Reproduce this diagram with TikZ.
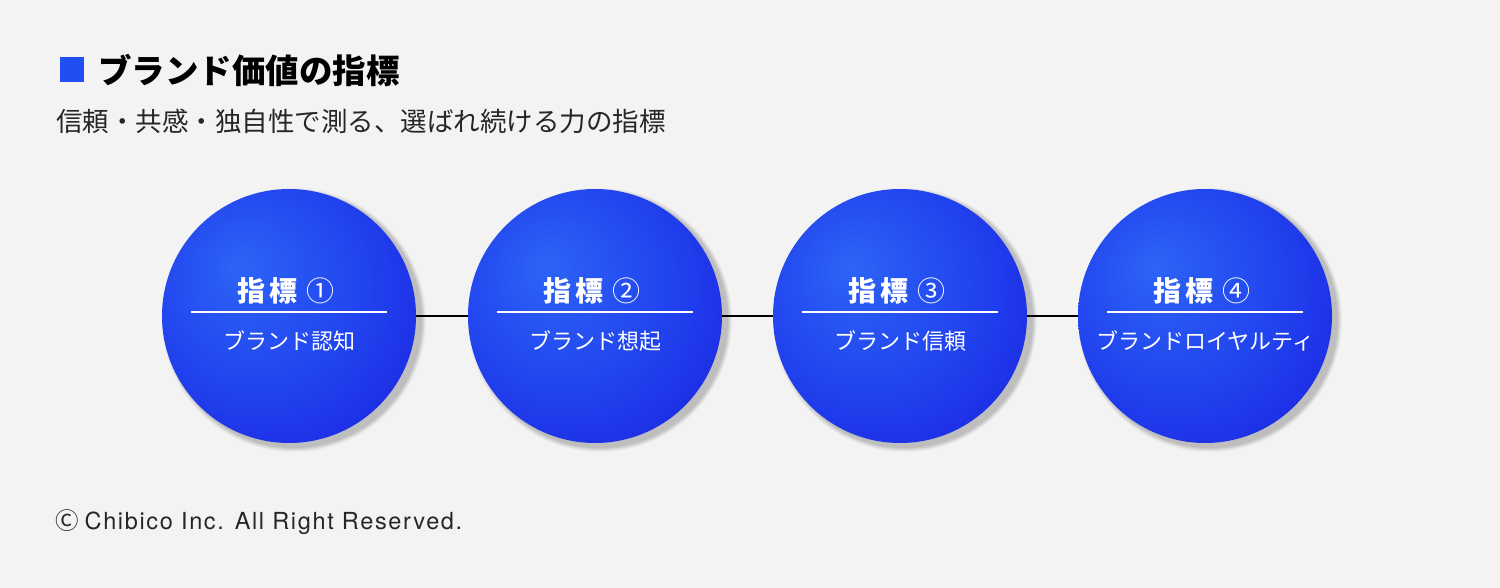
\documentclass[tikz,border=0pt]{standalone}
\usepackage{fontspec}
\setmainfont{Noto Sans CJK JP}
\newfontfamily\latinfont[LetterSpace=7]{TeX Gyre Heros}
\definecolor{bg}{HTML}{F3F3F3}
\definecolor{sq}{HTML}{1F4EF2}
\definecolor{balllight}{RGB}{44,100,246}
\definecolor{ballmid}{RGB}{33,66,238}
\definecolor{balldark}{RGB}{26,32,222}
\pgfdeclareradialshading{ballshade}{\pgfpoint{-10bp}{10bp}}{%
  color(0bp)=(balllight); color(22bp)=(ballmid); color(40bp)=(balldark); color(60bp)=(balldark)}
\tikzset{
  ball/.style={circle, minimum size=254pt, inner sep=0pt, shade, shading=ballshade},
  bhead/.style={text=white, font=\fontsize{28}{30}\selectfont\bfseries, inner sep=0pt},
  bsub/.style={text=white, font=\fontsize{22}{24}\selectfont, inner sep=0pt},
  rule/.style={white, line width=1.2pt},
  link/.style={black, line width=2.8pt},
}
\begin{document}
\begin{tikzpicture}[x=1pt,y=-1pt]
\fill[bg] (0,0) rectangle (1500,588);
\useasboundingbox (0,0) rectangle (1500,588);
% title
\fill[sq] (60,57) rectangle (84,82);
\node[anchor=west, inner sep=0pt, font=\fontsize{33.5}{36}\selectfont\bfseries] (title) at (98,70) {ブランド価値の指標};
\node[anchor=west, inner sep=0pt, font=\fontsize{26.5}{28}\selectfont, text=black!85] (subtitle) at (56,121) {信頼・共感・独自性で測る、選ばれ続ける力の指標};
% shadows
\foreach \cx in {289,595,900,1205} {
  \foreach \r/\o in {132/0.03,131/0.04,130/0.05,129/0.05,128/0.06} {
    \fill[black, opacity=\o] (\cx+5,320) circle[radius=\r];
  }
}
% balls
\node[ball] (c1) at (289,316) {};
\node[ball] (c2) at (595,316) {};
\node[ball] (c3) at (900,316) {};
\node[ball] (c4) at (1205,316) {};
% links
\draw[link] (c1.east) -- (c2.west);
\draw[link] (c2.east) -- (c3.west);
\draw[link] (c3.east) -- (c4.west);
% texts
\foreach \i/\cx/\n/\s in {1/289/①/ブランド認知, 2/595/②/ブランド想起, 3/900/③/ブランド信頼, 4/1205/④/ブランドロイヤルティ} {
  \node[bhead] (h\i) at (\cx-3,291) {指\hspace{4pt}標\hspace{9pt}{\mdseries\n}};
  \draw[rule] (\cx-98,312) -- (\cx+98,312);
  \node[bsub] (s\i) at (\cx,341) {\s};
}
% footer
\node[anchor=west, inner sep=0pt, font=\latinfont\fontsize{23.5}{26}\selectfont, text=black!85] (foot) at (55,522) {{\fontspec{Noto Sans CJK JP}Ⓒ}\hspace{6pt}Chibico Inc. All Right Reserved.};
\end{tikzpicture}
\end{document}
